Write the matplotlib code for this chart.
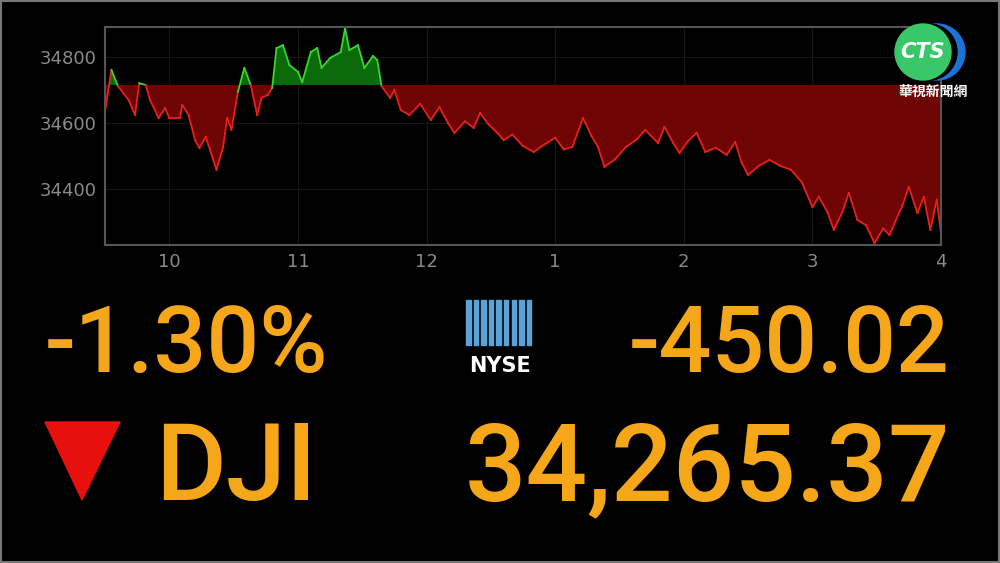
import matplotlib
matplotlib.use("Agg")
import matplotlib.pyplot as plt
from matplotlib.patches import Ellipse, Polygon, Rectangle
import numpy as np

# minutes since 9:30 and DJI price
minutes = [0, 3, 6, 11, 14, 16, 19, 21, 25, 28, 30, 35, 36, 39, 42, 44, 47, 49, 52, 55,
           57, 59, 62, 65, 68, 71, 73, 76, 78, 80, 83, 86, 90, 92, 96, 99, 101, 105, 110, 112,
           114, 118, 121, 125, 127, 129, 133, 135, 138, 142, 147, 152, 156, 160, 163, 168, 172, 175,
           179, 183, 186, 190, 195, 200, 205, 210, 214, 218, 223, 227, 230, 233, 238, 243,
           248, 252, 258, 261, 265, 268, 272, 276, 280, 285, 290, 294, 297, 300, 305, 310,
           315, 320, 325, 330, 333, 337, 340, 344, 347, 351, 355, 359, 363, 366, 369, 372,
           375, 379, 382, 385, 388, 390]
price = [34633, 34761, 34712, 34670, 34624, 34721, 34715, 34670, 34615, 34645, 34615, 34615,
         34655, 34624, 34548, 34524, 34558, 34518, 34458, 34524, 34615, 34579, 34694, 34767,
         34715, 34624, 34676, 34685, 34706, 34827, 34836, 34776, 34755, 34724, 34815, 34827,
         34767, 34797, 34815, 34888, 34821, 34836, 34767, 34803, 34791, 34712, 34676, 34700,
         34639, 34624, 34658, 34609, 34648, 34600, 34570, 34605, 34585, 34630, 34595, 34570,
         34548, 34565, 34530, 34512, 34535, 34555, 34520, 34527, 34615, 34560, 34527, 34467,
         34490, 34527, 34550, 34579, 34539, 34588, 34540, 34509, 34545, 34570, 34512, 34525,
         34503, 34542, 34480, 34442, 34470, 34488, 34470, 34458, 34421, 34345, 34376, 34330,
         34276, 34330, 34388, 34306, 34290, 34236, 34280, 34260, 34306, 34350, 34406, 34327,
         34376, 34276, 34367, 34265]
prev_close = 34715.39
xtick_min = [30, 90, 150, 210, 270, 330, 390]
xtick_lab = ["10", "11", "12", "1", "2", "3", "4"]
yticks = [34400, 34600, 34800]

ORANGE = "#f6a619"
fig = plt.figure(figsize=(10, 5.63), dpi=100)
fig.patch.set_facecolor("black")
ASP = 1000 / 563

ax = fig.add_axes([0.105, 1 - 245 / 563, 0.836, 218 / 563])
ax.set_facecolor("black")
ax.grid(color="#161616", lw=0.8, zorder=0)
ax.set_axisbelow(True)
t = np.array(minutes, float)
p = np.array(price, float)
ax.fill_between(t, p, prev_close, where=p >= prev_close, interpolate=True, color="#0b6b0b", lw=0)
ax.fill_between(t, p, prev_close, where=p < prev_close, interpolate=True, color="#6e0404", lw=0)
# line coloured by side of previous close
for i in range(len(t) - 1):
    up = (p[i] + p[i + 1]) / 2 >= prev_close
    ax.plot(t[i:i + 2], p[i:i + 2], color="#39d42c" if up else "#e8201a", lw=1.3)
ax.set_xlim(0, 390)
ax.set_ylim(34230, 34891)
ax.set_xticks(xtick_min)
ax.set_xticklabels(xtick_lab)
ax.set_yticks(yticks)
ax.tick_params(colors="#8a8a8a", labelsize=13, length=0, pad=6)
for s in ax.spines.values():
    s.set_color("#555555")
    s.set_linewidth(1.5)

# big numbers
big = dict(color=ORANGE, family="Roboto", weight="medium", va="baseline")
fig.text(0.045, 1 - 372 / 563, "-1.30%", fontsize=67, **big)
fig.text(0.950, 1 - 372 / 563, "-450.02", fontsize=67, ha="right", **big)
fig.text(0.155, 1 - 500 / 563, "DJI", fontsize=78, **big)
fig.text(0.950, 1 - 500 / 563, "34,265.37", fontsize=78, ha="right", **big)
fig.patches.append(Polygon([(45 / 1000, 1 - 422 / 563), (120 / 1000, 1 - 422 / 563), (82 / 1000, 1 - 500 / 563)],
                           closed=True, color="#e8100c", transform=fig.transFigure))

# NYSE logo
for i in range(9):
    fig.patches.append(Rectangle(((466 + i * 7.6) / 1000, 1 - 345 / 563), 4.5 / 1000, 45 / 563,
                                 color="#5aa3d8", transform=fig.transFigure))
fig.text(0.500, 1 - 372 / 563, "NYSE", color="white", fontsize=15, weight="bold", ha="center", va="baseline")

# CTS logo
cy = 1 - 52 / 563
r = 0.028
fig.patches.append(Ellipse((0.937, cy), 2 * r, 2 * r * ASP, color="#1d72d6", transform=fig.transFigure))
fig.patches.append(Ellipse((0.929, cy), 2 * r, 2 * r * ASP, color="black", transform=fig.transFigure))
fig.patches.append(Ellipse((0.923, cy), 2 * r, 2 * r * ASP, color="#38c86a", transform=fig.transFigure))
fig.text(0.923, cy, "CTS", color="white", fontsize=15, weight="bold", style="italic",
         ha="center", va="center")
fig.text(0.933, 1 - 92 / 563, "華視新聞網", color="white", fontsize=10, weight="bold",
         family=["Noto Sans CJK TC", "DejaVu Sans"], ha="center", va="center")

fig.patches.append(Rectangle((0.001, 0.001), 0.998, 0.998, fill=False, ec="#777777", lw=1.5,
                             transform=fig.transFigure))
fig.savefig("out.png", facecolor="black")
